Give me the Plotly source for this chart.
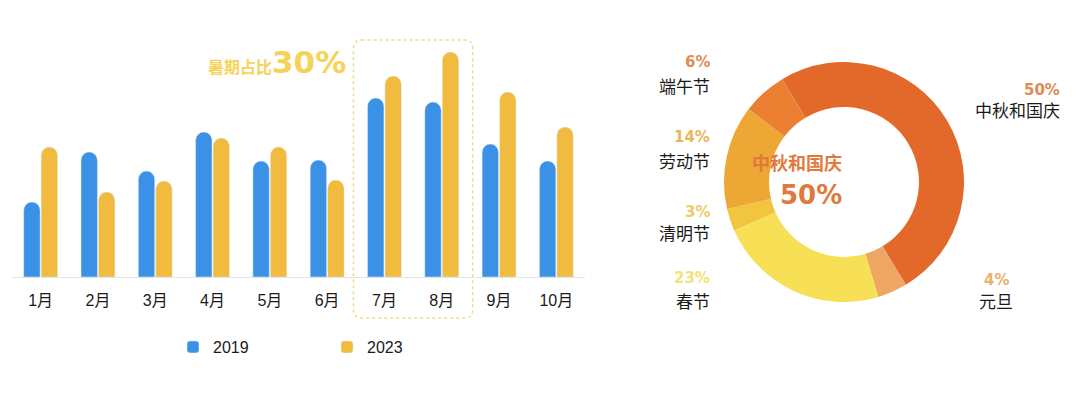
import plotly.graph_objects as go

# ---------------- data ----------------
months = ["1月", "2月", "3月", "4月", "5月", "6月", "7月", "8月", "9月", "10月"]
v2019 = [75, 125, 106, 145, 116, 117, 179, 175, 133, 116]
v2023 = [130, 85, 96, 139, 130, 97, 201, 225, 185, 150]
series_names = ["2019", "2023"]
highlight_text = "暑期占比"
highlight_value = "30%"

holidays = ["中秋和国庆", "元旦", "春节", "清明节", "劳动节", "端午节"]
shares = [50, 4, 23, 3, 14, 6]

# ---------------- style ----------------
W, H = 1080, 398
OFF = 8  # page body margin of the html page
CJK = "Noto Sans CJK SC"
NUM = "DejaVu Sans, Noto Sans CJK SC"
blue = "#3a91e6"
yellow = "#f0bb3e"
slice_colors = ["#e3692b", "#efa663", "#f7df56", "#f2c53f", "#eca735", "#eb7f31"]
pct_colors = ["#de8a52", "#e9b06e", "#f3e275", "#eecb66", "#e9b75a", "#de8c55"]


def px(x):
    return (x - OFF) / W


def py(y):
    return (H - (y - OFF)) / H


x_dom = [px(12), px(585)]
y_dom = [py(277), py(40)]

fig = go.Figure()
fig.add_trace(go.Bar(x=months, y=v2019, name=series_names[0], marker_color=blue))
fig.add_trace(go.Bar(x=months, y=v2023, name=series_names[1], marker_color=yellow))

cx, cy, R = 844, 182, 120
fig.add_trace(go.Pie(
    labels=holidays, values=shares, hole=0.625, sort=False, direction="clockwise",
    rotation=-31, marker=dict(colors=slice_colors, line=dict(width=0)),
    textinfo="none", showlegend=False, hoverinfo="label+percent",
    domain=dict(x=[px(cx - R), px(cx + R)], y=[py(cy + R), py(cy - R)]),
))

annotations = []
# highlight text
annotations.append(dict(
    x=px(348), y=py(62), xref="paper", yref="paper", xanchor="right", yanchor="middle",
    showarrow=False,
    text=(f"<b>{highlight_text}</b>"
          f"<span style='font-size:31px;font-family:DejaVu Sans'><b>{highlight_value}</b></span>"),
    font=dict(family=CJK, size=16, color="#f5d35a"),
))
# center of donut
annotations.append(dict(
    x=px(cx), y=py(162), xref="paper", yref="paper", showarrow=False,
    text=f"<b>{holidays[0]}</b>", font=dict(family=CJK, size=18, color="#e07a3c"),
))
annotations.append(dict(
    x=px(cx), y=py(195), xref="paper", yref="paper", showarrow=False,
    text=f"<b>{shares[0]}%</b>", font=dict(family=NUM, size=26, color="#e07a3c"),
))

# outer labels: index -> (pct y, name y, pct x, name x, anchor)
label_pos = {
    0: (90, 109, 1062, 1062, "right"),
    1: (280, 300, 982, 977, "left"),
    2: (278, 300, 712, 712, "right"),
    3: (212, 232, 712, 712, "right"),
    4: (137, 160, 712, 712, "right"),
    5: (62, 85, 712, 712, "right"),
}
for i, (ypct, yname, xp, xn, anc) in label_pos.items():
    annotations.append(dict(
        x=px(xp), y=py(ypct), xref="paper", yref="paper", xanchor=anc, yanchor="middle",
        showarrow=False, text=f"<b>{shares[i]}%</b>",
        font=dict(family=NUM, size=15, color=pct_colors[i]),
    ))
    annotations.append(dict(
        x=px(xn), y=py(yname), xref="paper", yref="paper", xanchor=anc, yanchor="middle",
        showarrow=False, text=holidays[i],
        font=dict(family=CJK, size=17, color="#1a1a1a"),
    ))


# dashed highlight box around 7月-8月 (category indices 6,7)
def cat_x(idx):
    return x_dom[0] + (idx + 0.5) / len(months) * (x_dom[1] - x_dom[0])


bx0, bx1 = cat_x(5.46), cat_x(7.54)
by0, by1 = py(318), py(40)
rx, ry = 8 / W, 8 / H
path = (
    f"M {bx0 + rx},{by1} L {bx1 - rx},{by1} Q {bx1},{by1} {bx1},{by1 - ry} "
    f"L {bx1},{by0 + ry} Q {bx1},{by0} {bx1 - rx},{by0} "
    f"L {bx0 + rx},{by0} Q {bx0},{by0} {bx0},{by0 + ry} "
    f"L {bx0},{by1 - ry} Q {bx0},{by1} {bx0 + rx},{by1} Z"
)
shapes = [dict(type="path", xref="paper", yref="paper", path=path,
               line=dict(color="#f0da92", width=1.5, dash="3px,3px"), layer="below")]

fig.update_layout(
    width=W, height=H,
    margin=dict(l=0, r=0, t=0, b=0),
    paper_bgcolor="white", plot_bgcolor="white",
    barmode="group", bargap=0.39, bargroupgap=0.06, barcornerradius="50%",
    xaxis=dict(domain=x_dom, showgrid=False, zeroline=False, showline=True,
               linecolor="#dde4ec", linewidth=1, ticks="", ticklabelstandoff=9,
               tickfont=dict(family="Liberation Sans, " + CJK, size=16, color="#1a1a1a"),
               fixedrange=True),
    yaxis=dict(domain=y_dom, range=[0, 237], visible=False, fixedrange=True),
    legend=dict(orientation="h", x=px(173), y=py(347), xanchor="left", yanchor="middle",
                font=dict(family="Liberation Sans", size=16, color="#1a1a1a"),
                entrywidth=109, traceorder="normal"),
    annotations=annotations,
    shapes=shapes,
    showlegend=True,
)

fig.write_html("out.html")
